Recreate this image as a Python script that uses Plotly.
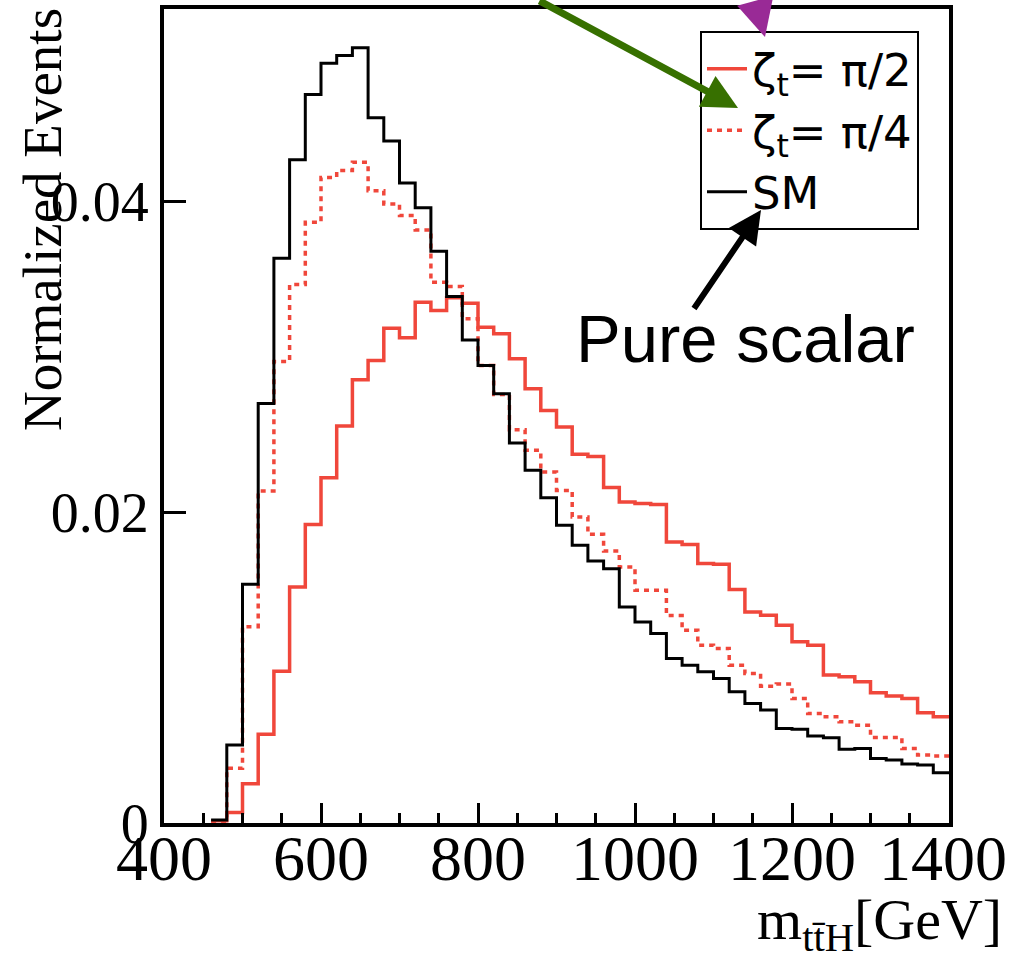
import plotly.graph_objects as go

# ---------------- data ----------------
bin_edges = list(range(460, 1401, 20))  # 20 GeV bins from 460 to 1400

sm = [0.0002, 0.00502, 0.01537, 0.0270, 0.03635, 0.0427, 0.0469, 0.0489, 0.0494, 0.0499,
      0.0454, 0.0439, 0.0412, 0.0396, 0.0368, 0.0339, 0.0311, 0.02945, 0.02763, 0.02446,
      0.0227, 0.02094, 0.01916, 0.01788, 0.01687, 0.01637, 0.01391, 0.01294, 0.0122, 0.01059,
      0.01016, 0.00973, 0.0093, 0.00845, 0.0077, 0.00727, 0.00609, 0.00603, 0.0056, 0.00549,
      0.00474, 0.0048, 0.00416, 0.00405, 0.0038, 0.00373, 0.00323]

zeta_pi4 = [0.0001, 0.00352, 0.01263, 0.02137, 0.02971, 0.03466, 0.03867, 0.04156, 0.0420, 0.04253,
            0.0407, 0.03985, 0.0391, 0.03818, 0.03481, 0.03453, 0.03246, 0.02945, 0.02759, 0.02532,
            0.02399, 0.02259, 0.02141, 0.0197, 0.01858, 0.01751, 0.01648, 0.01498, 0.01498, 0.01335,
            0.01241, 0.01145, 0.01123, 0.01016, 0.00963, 0.00881, 0.00894, 0.00802, 0.00705, 0.00684,
            0.00651, 0.0063, 0.00551, 0.00551, 0.0048, 0.00437, 0.00431]

zeta_pi2 = [0.00015, 0.00068, 0.00253, 0.00572, 0.00977, 0.0152, 0.01921, 0.02223, 0.02555, 0.02853,
            0.02977, 0.03185, 0.03123, 0.03352, 0.03299, 0.03381, 0.03346, 0.03192, 0.03149, 0.02988,
            0.02795, 0.02656, 0.02549, 0.02373, 0.0236, 0.02159, 0.02066, 0.02056, 0.0205, 0.01809,
            0.01792, 0.0167, 0.01665, 0.01503, 0.01359, 0.01338, 0.01273, 0.01166, 0.01145, 0.00952,
            0.00941, 0.00909, 0.00838, 0.00817, 0.00802, 0.00709, 0.00684]

x_ticks = [400, 600, 800, 1000, 1200, 1400]
x_ticktext = ["400", "600", "800", "1000", "1200", "1400"]
y_ticks = [0, 0.02, 0.04]
y_ticktext = ["0", "0.02", "0.04"]

RED = "#f0473b"

# ---------------- geometry ----------------
W, H = 1011, 962
L, R, T, B = 164, 62, 9, 139
pw, ph = W - L - R, H - T - B


def px(xp):
    return (xp - L) / pw


def py(yp):
    return (H - B - yp) / ph


def step(vals):
    return bin_edges, list(vals) + [vals[-1]]


fig = go.Figure()
xs, ys = step(zeta_pi2)
fig.add_trace(go.Scatter(x=xs, y=ys, mode="lines", line=dict(shape="hv", color=RED, width=3.5),
                         name="ζ<sub>t</sub>= π/2"))
xs, ys = step(zeta_pi4)
fig.add_trace(go.Scatter(x=xs, y=ys, mode="lines", line=dict(shape="hv", color=RED, width=3.5, dash="5px,5px"),
                         name="ζ<sub>t</sub>= π/4"))
xs, ys = step(sm)
fig.add_trace(go.Scatter(x=xs, y=ys, mode="lines", line=dict(shape="hv", color="black", width=3),
                         name="SM"))

serif = "Liberation Serif, Times New Roman, serif"
sans = "Liberation Sans, Arial, sans-serif"
wide_sans = "DejaVu Sans, Liberation Sans, sans-serif"

fig.update_layout(
    width=W, height=H,
    margin=dict(l=L, r=R, t=T, b=B, pad=0, autoexpand=False),
    paper_bgcolor="white", plot_bgcolor="white",
    showlegend=True,
    legend=dict(x=px(700), y=py(31), xanchor="left", yanchor="top",
                bgcolor="white", bordercolor="black", borderwidth=2,
                font=dict(family=wide_sans, size=45, color="black"),
                itemwidth=40, tracegroupgap=0),
    xaxis=dict(range=[400, 1400], tickvals=x_ticks, showticklabels=False,
               ticks="inside", ticklen=20, tickwidth=3,
               tickcolor="black", showgrid=False, zeroline=False, automargin=False,
               showline=True, linecolor="black", linewidth=4, mirror=True,
               minor=dict(dtick=50, ticks="inside", ticklen=10, tickwidth=3, tickcolor="black", showgrid=False)),
    yaxis=dict(range=[0, 0.0524], tickvals=y_ticks, ticktext=y_ticktext, ticks="inside", ticklen=22,
               tickwidth=3, tickcolor="black", showgrid=False, zeroline=False, automargin=False,
               showline=True, linecolor="black", linewidth=4, mirror=True,
               tickfont=dict(family=serif, size=56, color="black")),
)

annotations = []
# x tick labels placed just under the axis, on the data scale
for v, t in zip(x_ticks, x_ticktext):
    annotations.append(dict(text=t, x=v, xref="x", y=py(858), yref="paper", showarrow=False,
                            xanchor="center", yanchor="middle",
                            xshift=-6 if v == x_ticks[-1] else 0,
                            font=dict(family=serif, size=64, color="black")))

annotations += [
    dict(text="Normalized Events", x=px(42), y=py(220), xref="paper", yref="paper",
         textangle=-90, showarrow=False, xanchor="center", yanchor="middle",
         font=dict(family=serif, size=55, color="black")),
    dict(text="m<sub>tt\u0304H</sub>[GeV]", x=px(1004), y=py(923), xref="paper", yref="paper",
         showarrow=False, xanchor="right", yanchor="middle",
         font=dict(family=serif, size=58, color="black")),
    dict(text="Pure scalar", x=px(745), y=py(338), xref="paper", yref="paper",
         showarrow=False, xanchor="center", yanchor="middle",
         font=dict(family=sans, size=67, color="black")),
    # arrows
    dict(text="", x=px(761), y=py(210), xref="paper", yref="paper", showarrow=True,
         ax=-68, ay=100, arrowhead=2, arrowsize=1.1, arrowwidth=6, arrowcolor="black", standoff=0),
    dict(text="", x=px(738), y=py(108), xref="paper", yref="paper", showarrow=True,
         ax=-200, ay=-112, arrowhead=2, arrowsize=1.0, arrowwidth=7, arrowcolor="#377000", standoff=0),
    dict(text="", x=px(765), y=py(37), xref="paper", yref="paper", showarrow=True,
         ax=-10, ay=-44, arrowhead=2, arrowsize=1.25, arrowwidth=6, arrowcolor="#992a96", standoff=0),
]
fig.update_layout(annotations=annotations)

fig.write_html("out.html")
